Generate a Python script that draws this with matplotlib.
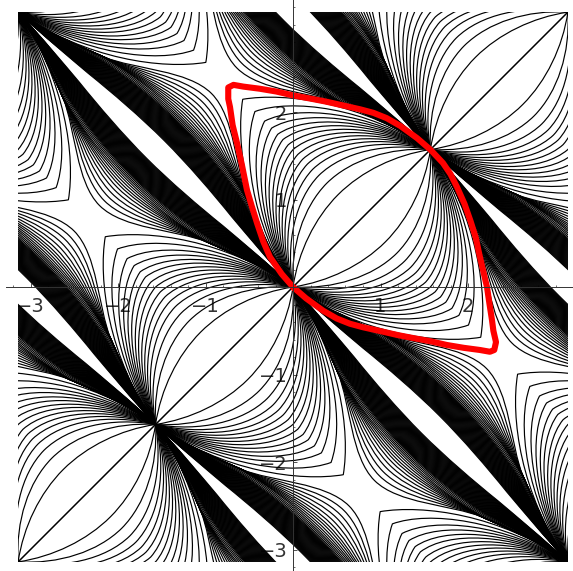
"""Contour portrait: lens cells and saddle cells, red separatrix on top."""
import numpy as np
import matplotlib
matplotlib.use("Agg")
import matplotlib.pyplot as plt
from matplotlib.path import Path
from matplotlib.patches import PathPatch, Rectangle
from matplotlib.ticker import MultipleLocator

PI = np.pi

# mid-cell offsets of the contours read along the anti-diagonal of a lens
lens_tips = [0.0, 0.27, 0.40, 0.49, 0.56, 0.62, 0.675, 0.73, 0.785, 0.84,
             0.90, 0.96, 1.03, 1.11, 1.22, 1.36]
# mid-cell offsets of the contours hugging a white sliver
band_tips = [0.64, 0.585, 0.54, 0.50, 0.465, 0.435, 0.41, 0.39, 0.37, 0.352,
             0.336, 0.322, 0.31, 0.298, 0.288, 0.281, 0.275, 0.269, 0.263, 0.257,
             0.251, 0.245, 0.239, 0.233, 0.227, 0.221, 0.215, 0.209, 0.203, 0.197,
             0.191, 0.185, 0.179, 0.173, 0.167, 0.161, 0.155, 0.149, 0.143, 0.137,
             0.131, 0.125, 0.119, 0.113, 0.107, 0.101]
# lower node of each lens
lens_nodes = [(0, 0), (-PI / 2, -PI / 2), (PI / 2, PI / 2), (-PI, -PI),
              (PI / 2, -3 * PI / 2), (PI, -PI), (-PI, PI), (-3 * PI / 2, PI / 2)]
# lower right node of each sliver chord
band_nodes = [(0, 0), (PI, -PI), (PI / 2, PI / 2), (3 * PI / 2, -PI / 2),
              (-PI / 2, -PI / 2), (PI / 2, -3 * PI / 2)]

red_x = [0, 0.15, 0.343, 0.5, 0.651, 0.8, 0.994, 1.2, 1.371, 1.57, 1.76, 1.95,
         2.137, 2.25, 2.30, 2.32,
         2.29, 2.274, 2.245, 2.217, 2.17, 2.13, 2.09, 2.03, 1.96, 1.874, 1.80,
         1.714, 1.57,
         1.42, 1.228, 1.07, 0.92, 0.77, 0.576, 0.371, 0.2, 0, -0.19, -0.38, -0.566,
         -0.68, -0.74, -0.74,
         -0.72, -0.69, -0.64, -0.585, -0.526, -0.47, -0.411, -0.34, -0.263, -0.13, 0]
red_y = [0, -0.13, -0.27, -0.36, -0.42, -0.46, -0.503, -0.55, -0.583, -0.62, -0.663,
         -0.695, -0.72, -0.74, -0.72, -0.63,
         -0.5, -0.377, -0.19, 0, 0.2, 0.37, 0.56, 0.75, 0.95, 1.143, 1.29, 1.417, 1.57,
         1.70, 1.84, 1.93, 1.99, 2.03, 2.074, 2.12, 2.153, 2.19, 2.234, 2.266, 2.29,
         2.31, 2.28, 2.15,
         2.057, 1.85, 1.646, 1.4, 1.109, 0.92, 0.731, 0.52, 0.343, 0.15, 0]

tick_vals = [-3, -2, -1, 1, 2]
y_tick_vals = [-3, -2, -1, 1, 2]
tick_labels = ["\u22123", "\u22122", "\u22121", "1", "2"]

W, H = 573, 571
SCALE = 87.5
X0, Y0 = 293, 287

fig = plt.figure(figsize=(W / 100, H / 100), dpi=100)
ax = fig.add_axes([0, 0, 1, 1])
ax.set_xlim(-X0 / SCALE, (W - X0) / SCALE)
ax.set_ylim(-(H - Y0) / SCALE, Y0 / SCALE)

frame = Rectangle((-PI, -PI), 2 * PI, 2 * PI, transform=ax.transData)


def mirrored(half):
    """Complete a half curve (along, across) by mirroring it at its tip."""
    half = np.array(half)
    L = 2 * half[-1, 0]
    other = half[-2::-1].copy()
    other[:, 0] = L - other[:, 0]
    return np.vstack([half, other])


def lens_arc(h):
    t = h / 1.5
    return mirrored([(0, 0),
                     (0.26 - 0.16 * t, h * (0.667 - 0.2 * t)),
                     (0.52 - 0.02 * t, h - 0.3 * t ** 4),
                     (PI / 4, h)])


def band_arc(h):
    # all the outer curves pinch together at the knee, next to the red curve
    knee = min(0.235, 0.05 + (h - 0.1) * 0.8)
    slope = 0.22 + (h - 0.29) * 0.6
    return mirrored([(0, 0),
                     (0.3, knee * 0.2),
                     (0.55, knee * 0.68),
                     (0.75, knee),
                     (1.0, min(h, knee + 0.25 * slope)),
                     (1.3, h),
                     (PI / 2, h)])


def draw(xy):
    codes = [Path.MOVETO] + [Path.CURVE4] * (len(xy) - 1)
    p = PathPatch(Path(xy, codes), fill=False, edgecolor="black", lw=0.85, zorder=2)
    ax.add_patch(p)
    p.set_clip_path(frame)


for nx, ny in lens_nodes:
    for h in lens_tips:
        c = lens_arc(h)
        for s in (1, -1):
            x = nx + c[:, 0] + s * c[:, 1]
            y = ny + c[:, 0] - s * c[:, 1]
            draw(np.column_stack([x, y]))

for nx, ny in band_nodes:
    for h in band_tips:
        c = band_arc(h)
        for s in (1, -1):
            x = nx - c[:, 0] + s * c[:, 1]
            y = ny + c[:, 0] + s * c[:, 1]
            draw(np.column_stack([x, y]))

ax.plot(red_x, red_y, color="#ff0000", lw=4.4, solid_joinstyle="round", zorder=3)

# axes through the origin, Mathematica style
for side in ("top", "right"):
    ax.spines[side].set_visible(False)
for side in ("left", "bottom"):
    ax.spines[side].set_position(("data", 0))
    ax.spines[side].set_color("#333333")
    ax.spines[side].set_linewidth(0.7)
    ax.spines[side].set_zorder(4)
ax.spines["bottom"].set_bounds(-3.28, (W - X0) / SCALE)
ax.set_xticks(tick_vals)
ax.set_xticklabels(tick_labels)
ax.set_yticks(y_tick_vals)
ax.set_yticklabels(tick_labels)
ax.xaxis.set_minor_locator(MultipleLocator(0.2))
ax.yaxis.set_minor_locator(MultipleLocator(0.2))
ax.tick_params(which="major", direction="in", length=3, width=0.6, color="#333333",
               labelsize=14, labelcolor="#333333")
ax.tick_params(axis="x", which="major", pad=7)
ax.tick_params(axis="y", which="major", pad=4)
ax.tick_params(which="minor", direction="in", length=1.5, width=0.5, color="#333333")
for lab in ax.get_xticklabels() + ax.get_yticklabels():
    lab.set_zorder(5)

fig.savefig("out.png", dpi=100)
